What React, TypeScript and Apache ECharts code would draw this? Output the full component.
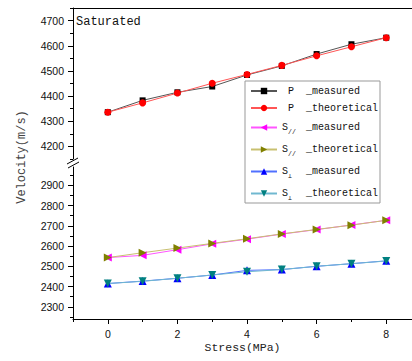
import React, { useEffect, useRef } from "react";
import * as echarts from "echarts";

const stress = [0, 1, 2, 3, 4, 5, 6, 7, 8];
const pMeasured = [4336, 4383, 4415, 4438, 4484, 4520, 4567, 4606, 4632];
const pTheoretical = [4336, 4373, 4412, 4451, 4486, 4522, 4560, 4596, 4632];
const sParMeasured = [2543, 2554, 2582, 2611, 2634, 2659, 2681, 2704, 2727];
const sParTheoretical = [2543, 2567, 2590, 2613, 2636, 2660, 2682, 2703, 2727];
const sPerpMeasured = [2415, 2427, 2441, 2457, 2480, 2484, 2500, 2513, 2527];
const sPerpTheoretical = [2415, 2426, 2441, 2457, 2473, 2484, 2500, 2513, 2526];

const xMajorTicks = [0, 2, 4, 6, 8];
const xMinorTicks = [-1, 1, 3, 5, 7];
const upperMajorTicks = [4200, 4300, 4400, 4500, 4600, 4700];
const upperMinorTicks = [4150, 4250, 4350, 4450, 4550, 4650, 4750];
const lowerMajorTicks = [2300, 2400, 2500, 2600, 2700, 2800, 2900];
const lowerMinorTicks = [2250, 2350, 2450, 2550, 2650, 2750, 2850, 2950];

const seriesNames = [
  "P _measured",
  "P _theoretical",
  "S// _measured",
  "S// _theoretical",
  "S⊥ _measured",
  "S⊥ _theoretical",
];

const MONO = "'Liberation Mono', 'Courier New', monospace";
const SANS = "'Liberation Sans', Arial, sans-serif";

export default function App() {
  const ref = useRef<HTMLDivElement>(null);
  useEffect(() => {
    if (!ref.current) return;
    const chart = echarts.init(ref.current, null, { renderer: "svg" });
    const pts = (vals: number[]) => stress.map((x, i) => [x, vals[i]]);
    const xMin = -1;
    const xMax = 8.74;
    const plain = (v: number) => String(v);
    const labelStyle = { fontFamily: SANS, fontSize: 10.5, color: "#111", formatter: plain };
    const axisLineStyle = { lineStyle: { color: "#000", width: 1 } };

    const mk = (
      name: string,
      data: number[],
      grid: number,
      color: string,
      lineColor: string,
      symbol: string,
      rotate: number,
      size: number
    ) => ({
      name,
      type: "line",
      xAxisIndex: grid === 0 ? 0 : 1,
      yAxisIndex: grid === 0 ? 0 : 2,
      data: pts(data),
      symbol,
      symbolRotate: rotate,
      symbolSize: size,
      showAllSymbol: true,
      itemStyle: { color },
      lineStyle: { color: lineColor, width: 1 },
    });

    const legendFmt = (name: string) => {
      if (name.startsWith("P")) {
        return "{hp| P}{t|" + name.slice(2) + "}";
      }
      const sub = name.startsWith("S//") ? "//" : "⊥";
      const rest = name.slice(name.indexOf("_"));
      return "{s|S}{sub|" + sub + "}{t|" + rest + "}";
    };

    chart.setOption({
      animation: false,
      title: {
        text: "Saturated",
        left: 76,
        top: 16,
        padding: 0,
        textStyle: { fontFamily: MONO, fontSize: 12, fontWeight: "normal", color: "#111" },
      },
      legend: {
        orient: "vertical",
        left: 245,
        top: 81,
        padding: [4, 2, 1, 5],
        itemGap: 5,
        itemWidth: 26,
        itemHeight: 8,
        backgroundColor: "#fff",
        borderColor: "#999",
        borderWidth: 1,
        data: seriesNames,
        formatter: legendFmt,
        textStyle: {
          fontFamily: MONO,
          fontSize: 10,
          color: "#111",
          lineHeight: 12,
          rich: {
            hp: { fontFamily: MONO, fontSize: 10, width: 24, lineHeight: 12 },
            t: { fontFamily: MONO, fontSize: 10, lineHeight: 12 },
            s: { fontFamily: MONO, fontSize: 10, lineHeight: 12 },
            sub: {
              fontFamily: MONO,
              fontSize: 6.5,
              width: 18,
              lineHeight: 17,
              verticalAlign: "bottom",
            },
          },
        },
      },
      grid: [
        { left: 73, right: 0, top: 8, height: 151, outerBoundsMode: "none" },
        { left: 73, right: 0, top: 167, height: 152, outerBoundsMode: "none" },
      ],
      xAxis: [
        {
          type: "value",
          gridIndex: 0,
          position: "top",
          min: xMin,
          max: xMax,
          axisLine: { show: true, ...axisLineStyle },
          axisTick: { show: false },
          axisLabel: { show: false },
          splitLine: { show: false },
        },
        {
          type: "value",
          gridIndex: 1,
          position: "bottom",
          min: xMin,
          max: xMax,
          axisLine: { show: true, onZero: false, ...axisLineStyle },
          axisTick: { show: true, length: 5, customValues: xMajorTicks, lineStyle: { color: "#000" } },
          axisLabel: { show: true, margin: 9, customValues: xMajorTicks, ...labelStyle },
          splitLine: { show: false },
          name: "Stress(MPa)",
          nameLocation: "middle",
          nameGap: 22,
          nameTextStyle: { fontFamily: MONO, fontSize: 11.5, color: "#222" },
        },
        {
          type: "value",
          gridIndex: 1,
          position: "bottom",
          min: xMin,
          max: xMax,
          axisLine: { show: false, onZero: false },
          axisTick: { show: true, length: 3, customValues: xMinorTicks, lineStyle: { color: "#000" } },
          axisLabel: { show: false },
          splitLine: { show: false },
        },
      ],
      yAxis: [
        {
          type: "value",
          gridIndex: 0,
          position: "left",
          min: 4150,
          max: 4750,
          axisLine: { show: true, onZero: false, ...axisLineStyle },
          axisTick: { show: true, length: 5, customValues: upperMajorTicks, lineStyle: { color: "#000" } },
          axisLabel: { show: true, margin: 9, customValues: upperMajorTicks, ...labelStyle },
          splitLine: { show: false },
        },
        {
          type: "value",
          gridIndex: 0,
          position: "left",
          min: 4150,
          max: 4750,
          axisLine: { show: false, onZero: false },
          axisTick: { show: true, length: 3, customValues: upperMinorTicks, lineStyle: { color: "#000" } },
          axisLabel: { show: false },
          splitLine: { show: false },
        },
        {
          type: "value",
          gridIndex: 1,
          position: "left",
          min: 2240,
          max: 2990,
          axisLine: { show: true, onZero: false, ...axisLineStyle },
          axisTick: { show: true, length: 5, customValues: lowerMajorTicks, lineStyle: { color: "#000" } },
          axisLabel: { show: true, margin: 9, customValues: lowerMajorTicks, ...labelStyle },
          splitLine: { show: false },
        },
        {
          type: "value",
          gridIndex: 1,
          position: "left",
          min: 2240,
          max: 2990,
          axisLine: { show: false, onZero: false },
          axisTick: { show: true, length: 3, customValues: lowerMinorTicks, lineStyle: { color: "#000" } },
          axisLabel: { show: false },
          splitLine: { show: false },
        },
      ],
      graphic: [
        {
          type: "text",
          x: 22,
          y: 157,
          rotation: Math.PI / 2,
          style: {
            text: "Velocity(m/s)",
            fontFamily: MONO,
            fontSize: 12,
            fill: "#444",
            textAlign: "center",
            textVerticalAlign: "middle",
          },
        },
        {
          type: "line",
          shape: { x1: 67, y1: 164, x2: 78, y2: 158 },
          style: { stroke: "#000", lineWidth: 1 },
        },
        {
          type: "line",
          shape: { x1: 68, y1: 168, x2: 79, y2: 162 },
          style: { stroke: "#000", lineWidth: 1 },
        },
      ],
      series: [
        mk(seriesNames[0], pMeasured, 0, "#000000", "#555555", "rect", 0, 6),
        mk(seriesNames[1], pTheoretical, 0, "#ff0000", "#ff5555", "circle", 0, 7),
        mk(seriesNames[2], sParMeasured, 1, "#ff00ff", "#ff55ff", "triangle", 90, 8),
        mk(seriesNames[3], sParTheoretical, 1, "#808000", "#c8c070", "triangle", -90, 8),
        mk(seriesNames[4], sPerpMeasured, 1, "#0000ff", "#5070ff", "triangle", 0, 8),
        mk(seriesNames[5], sPerpTheoretical, 1, "#008080", "#70b8d0", "triangle", 180, 8),
      ],
    });
    return () => chart.dispose();
  }, []);
  return (
    <div
      ref={ref}
      style={{ position: "absolute", left: 0, top: 0, width: 412, height: 361, background: "#fff" }}
    />
  );
}
